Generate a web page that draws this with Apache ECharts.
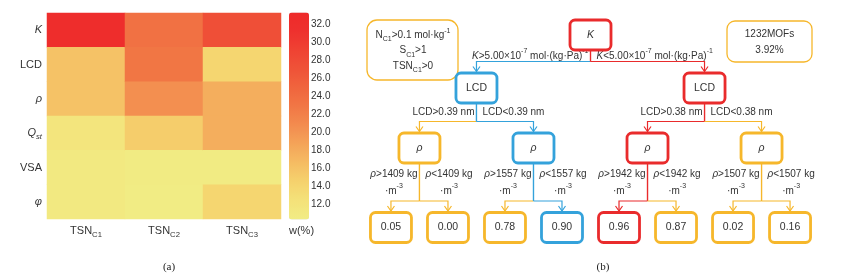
<!DOCTYPE html>
<html>
<head>
<meta charset="utf-8">
<script src="https://cdn.jsdelivr.net/npm/echarts@6/dist/echarts.min.js"></script>
<style>
html, body { margin: 0; padding: 0; background: #fff; }
#main { width: 854px; height: 279px; }
</style>
</head>
<body>
<div id="main"></div>
<script>
'use strict';

// (a) weight w(%) of each feature for the three TSN sets
var features = ['K', 'LCD', 'ρ', 'Qst', 'VSA', 'φ'];
var tsnSets = ['C1', 'C2', 'C3'];
var weightC1 = [32.5, 16.0, 16.0, 11.8, 11.0, 11.0];
var weightC2 = [23.5, 23.0, 20.5, 15.0, 10.6, 10.4];
var weightC3 = [27.5, 14.0, 17.8, 17.8, 10.6, 14.0];
var colorbarTicks = [12, 14, 16, 18, 20, 22, 24, 26, 28, 30, 32];

// (b) decision tree, nodes listed breadth first
var nodeNames = ['K', 'LCD', 'LCD', 'ρ', 'ρ', 'ρ', 'ρ', '0.05', '0.00', '0.78', '0.90', '0.96', '0.87', '0.02', '0.16'];
var nodeParent = [-1, 0, 0, 1, 1, 2, 2, 3, 3, 4, 4, 5, 5, 6, 6];
var nodePath = ['red', 'blue', 'red', 'gold', 'blue', 'red', 'gold', 'gold', 'gold', 'gold', 'blue', 'red', 'gold', 'gold', 'gold'];
var kCut = ['5.00', '-7'];
var lcdCuts = ['0.39', '0.38'];
var rhoCuts = ['1409', '1557', '1942', '1507'];
var screenRules = ['{t|N}{sub|C1}{t|>0.1 mol·kg}{sup|-1}', '{t|S}{sub|C1}{t|>1}', '{t|TSN}{sub|C1}{t|>0}'];
var summary = ['1232MOFs', '3.92%'];

var FONT = '"Liberation Sans", Arial, sans-serif';
var TEXT = '#333';
var pathColor = { red: '#e92b2c', blue: '#34a2db', gold: '#f6b72b' };
var italicNames = ['K', 'ρ', 'φ'];
var BOX_W = 41, BOX_H = 30;
var levelY = [35, 88, 148, 227.5];
var labelLift = [0, 5.5, 9, 18.5];

function richSet(size, lh) {
	var base = { fontSize: size, lineHeight: lh, fontFamily: FONT, color: TEXT, fill: TEXT, align: 'center' };
	var small = { fontSize: size * 0.7, lineHeight: lh * 0.62, fontFamily: FONT, color: TEXT, fill: TEXT, align: 'center' };
	return {
		t: base,
		i: Object.assign({}, base, { fontStyle: 'italic' }),
		sup: Object.assign({}, small, { verticalAlign: 'top' }),
		sub: Object.assign({}, small, { verticalAlign: 'bottom' }),
		isub: Object.assign({}, small, { verticalAlign: 'bottom', fontStyle: 'italic' })
	};
}

function symbolText(name) {
	if (name === 'Qst') return '{i|Q}{isub|st}';
	if (italicNames.indexOf(name) >= 0) return '{i|' + name + '}';
	return '{t|' + name + '}';
}

// tree layout: leaves evenly spaced, parents centred over their children
var nodeDepth = [], nodeX = [], leafCount = 0;
function childrenOf(i) {
	var out = [];
	for (var c = 0; c < nodeParent.length; c++) if (nodeParent[c] === i) out.push(c);
	return out;
}
function layout(i, d) {
	nodeDepth[i] = d;
	var kids = childrenOf(i);
	if (!kids.length) {
		nodeX[i] = leafCount++;
		return;
	}
	var sum = 0;
	kids.forEach(function (c) {
		layout(c, d + 1);
		sum += nodeX[c];
	});
	nodeX[i] = sum / kids.length;
}
layout(0, 0);

function rankInLevel(i) {
	var r = 0;
	for (var j = 0; j < i; j++) if (nodeDepth[j] === nodeDepth[i] && childrenOf(j).length) r++;
	return r;
}

function edgeLabel(c) {
	var p = nodeParent[c];
	var op = childrenOf(p)[0] === c ? '>' : '<';
	var d = nodeDepth[c];
	if (d === 1) return '{i|K}{t|' + op + kCut[0] + '×10}{sup|' + kCut[1] + '}{t| mol·(kg·Pa)}{sup|-1}';
	if (d === 2) return '{t|LCD' + op + lcdCuts[rankInLevel(p)] + ' nm}';
	return '{i|ρ}{t|' + op + rhoCuts[rankInLevel(p)] + ' kg}\n{t|·m}{sup|-3}';
}

var heatData = [];
[weightC1, weightC2, weightC3].forEach(function (col, x) {
	col.forEach(function (v, y) {
		heatData.push([x, y, v]);
	});
});

var treeData = nodeNames.map(function (n, i) {
	return [nodeX[i], levelY[nodeDepth[i]]];
});

function renderNode(params, api) {
	var i = params.dataIndex;
	var p = api.coord([api.value(0), api.value(1)]);
	var color = pathColor[nodePath[i]];
	var els = [];
	childrenOf(i).forEach(function (c, k) {
		var q = api.coord([nodeX[c], levelY[nodeDepth[c]]]);
		var top = q[1] - BOX_H / 2;
		var tip = top - 1.5;
		var barY = top - 11.5;
		var cc = pathColor[nodePath[c]];
		els.push({ type: 'polyline', shape: { points: [[p[0], p[1] + BOX_H / 2], [p[0], barY]] }, style: { stroke: color, lineWidth: 1.2, fill: null } });
		els.push({ type: 'polyline', shape: { points: [[p[0], barY], [q[0], barY], [q[0], tip]] }, style: { stroke: cc, lineWidth: 1.2, fill: null } });
		els.push({ type: 'polyline', shape: { points: [[q[0] - 3.5, tip - 5], [q[0], tip], [q[0] + 3.5, tip - 5]] }, style: { stroke: cc, lineWidth: 1.2, fill: null } });
		els.push({
			type: 'text',
			x: k === 0 ? p[0] - 2 : p[0] + 6,
			y: barY - labelLift[nodeDepth[c]],
			style: {
				text: edgeLabel(c),
				rich: richSet(10, 17),
				align: k === 0 ? 'right' : 'left',
				verticalAlign: 'middle'
			}
		});
	});
	els.push({
		type: 'rect',
		shape: { x: p[0] - BOX_W / 2, y: p[1] - BOX_H / 2, width: BOX_W, height: BOX_H, r: 5 },
		style: { fill: '#fff', stroke: color, lineWidth: 2.8 }
	});
	els.push({
		type: 'text',
		x: p[0],
		y: p[1],
		style: { text: symbolText(nodeNames[i]), rich: richSet(10.5, 14), align: 'center', verticalAlign: 'middle' }
	});
	return { type: 'group', children: els };
}

var chart = echarts.init(document.getElementById('main'));

var option = {
	animation: false,
	backgroundColor: '#fff',
	grid: [
		{ left: 47, top: 13, width: 234, height: 206 },
		{ left: 289, top: 12.5, width: 20, height: 207 },
		{ left: 371, top: 0, width: 439, height: 279 }
	],
	xAxis: [{
		gridIndex: 0,
		type: 'category',
		data: tsnSets,
		axisLine: { show: false },
		axisTick: { show: false },
		axisLabel: {
			interval: 0,
			hideOverlap: false,
			margin: 4,
			formatter: function (v) { return '{t|TSN}{sub|' + v + '}'; },
			rich: richSet(11, 16)
		}
	}, {
		gridIndex: 1, type: 'value', show: false
	}, {
		gridIndex: 2, type: 'value', show: false, min: -0.35, max: 7.35
	}],
	yAxis: [{
		gridIndex: 0,
		type: 'category',
		data: features,
		inverse: true,
		axisLine: { show: false },
		axisTick: { show: false },
		axisLabel: {
			interval: 0,
			margin: 5,
			formatter: symbolText,
			rich: richSet(11, 16)
		}
	}, {
		gridIndex: 1,
		type: 'value',
		position: 'right',
		min: 10.3,
		max: 33.3,
		axisLine: { show: false },
		axisTick: { show: false },
		splitLine: { show: false },
		axisLabel: {
			customValues: colorbarTicks,
			margin: 2,
			fontSize: 10,
			fontFamily: FONT,
			color: TEXT,
			formatter: function (v) { return v.toFixed(1); }
		}
	}, {
		gridIndex: 2, type: 'value', show: false, inverse: true, min: 0, max: 279
	}],
	visualMap: {
		type: 'continuous',
		seriesIndex: 0,
		min: 10.3,
		max: 33.3,
		calculable: false,
		left: 289,
		top: 12.5,
		padding: 0,
		itemWidth: 20,
		itemHeight: 207,
		text: null,
		inRange: {
			color: ['#f1ec84', '#f4e27a', '#f5d26d', '#f5bc63', '#f4a459', '#f38c4f', '#f17745', '#f0653e', '#ef5338', '#ef4233', '#ee312e', '#ee2a2a']
		}
	},
	series: [{
		type: 'heatmap',
		xAxisIndex: 0,
		yAxisIndex: 0,
		data: heatData,
		itemStyle: { borderWidth: 0 },
		emphasis: { disabled: true }
	}, {
		type: 'custom',
		xAxisIndex: 2,
		yAxisIndex: 2,
		silent: true,
		data: treeData,
		renderItem: renderNode
	}],
	graphic: [
		{ type: 'text', x: 289, y: 231, style: { text: 'w(%)', font: '11px ' + FONT, fill: TEXT, verticalAlign: 'middle' } },
		{ type: 'text', x: 169, y: 267, style: { text: '(a)', font: '11px "Liberation Serif", serif', fill: '#222', align: 'center', verticalAlign: 'middle' } },
		{ type: 'text', x: 603, y: 267, style: { text: '(b)', font: '11px "Liberation Serif", serif', fill: '#222', align: 'center', verticalAlign: 'middle' } },
		{ type: 'rect', shape: { x: 367, y: 20, width: 91, height: 60, r: 10 }, style: { fill: 'none', stroke: pathColor.gold, lineWidth: 1.3 } },
		{ type: 'text', x: 413, y: 50.5, style: { text: screenRules.join('\n'), rich: richSet(10, 15.5), align: 'center', verticalAlign: 'middle' } },
		{ type: 'rect', shape: { x: 727, y: 21, width: 85, height: 41, r: 8 }, style: { fill: 'none', stroke: pathColor.gold, lineWidth: 1.3 } },
		{ type: 'text', x: 769.5, y: 42, style: { text: summary.map(function (s) { return '{t|' + s + '}'; }).join('\n'), rich: richSet(10, 16), align: 'center', verticalAlign: 'middle' } }
	]
};

chart.setOption(option);
</script>
</body>
</html>
